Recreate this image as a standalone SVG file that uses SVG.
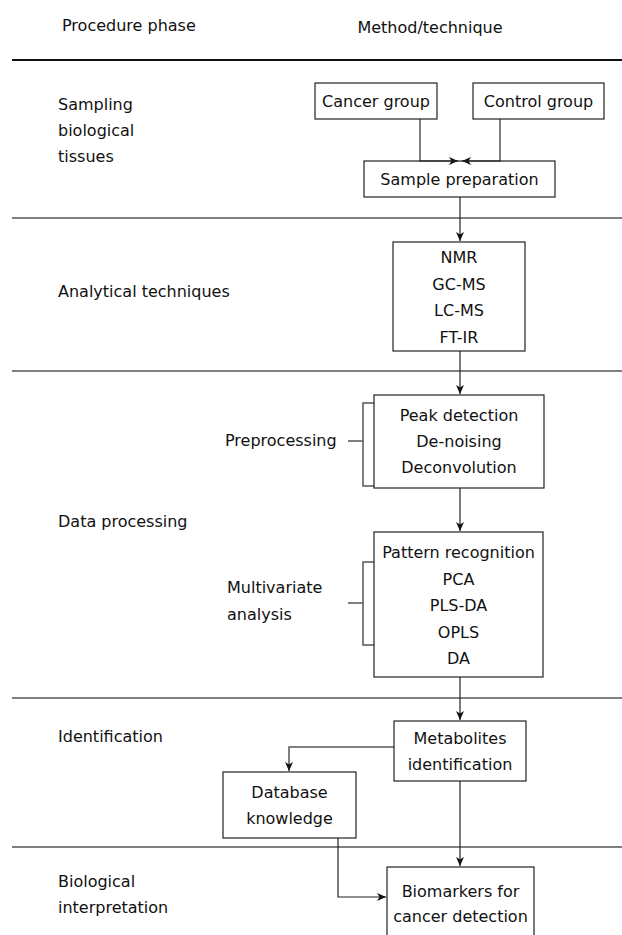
<svg xmlns="http://www.w3.org/2000/svg" width="622" height="935" viewBox="0 0 622 935">
<style>
text{font-family:"DejaVu Sans","Verdana",sans-serif;font-size:16px;fill:#111}
.c{text-anchor:middle}
.box{fill:#fff;stroke:#222;stroke-width:1.2}
.sep{stroke:#555;stroke-width:1.5;fill:none}
.con{stroke:#222;stroke-width:1.2;fill:none}
.con2{stroke:#555;stroke-width:1.5;fill:none}
</style>
<defs>
<marker id="ah" markerUnits="userSpaceOnUse" markerWidth="10" markerHeight="10" refX="9" refY="4" orient="auto">
<path d="M0,0 L9,4 L0,8 L2.5,4 z" fill="#111"/>
</marker>
</defs>
<rect width="622" height="935" fill="#fff"/>
<g id="header">
<text x="62" y="31">Procedure phase</text>
<text x="430" y="33" class="c">Method/technique</text>
<line x1="12" y1="60" x2="622" y2="60" stroke="#111" stroke-width="2.2"/>
</g>
<g id="separators">
<line class="sep" x1="12" y1="218" x2="622" y2="218"/>
<line class="sep" x1="12" y1="371" x2="622" y2="371"/>
<line class="sep" x1="12" y1="698" x2="622" y2="698"/>
<line class="sep" x1="12" y1="847" x2="622" y2="847"/>
</g>
<g id="phases">
<text x="58" y="110">Sampling</text>
<text x="58" y="136">biological</text>
<text x="58" y="162">tissues</text>
<text x="58" y="297">Analytical techniques</text>
<text x="58" y="527">Data processing</text>
<text x="58" y="742">Identification</text>
<text x="58" y="887">Biological</text>
<text x="58" y="913">interpretation</text>
</g>
<g id="connectors">
<path class="con2" d="M420,119 V161 H458" marker-end="url(#ah)"/>
<path class="con2" d="M500,119 V161 H462" marker-end="url(#ah)"/>
<path class="con" d="M460,197 V241" marker-end="url(#ah)"/>
<path class="con" d="M460,351 V394" marker-end="url(#ah)"/>
<path class="con" d="M460,488 V531" marker-end="url(#ah)"/>
<path class="con" d="M460,677 V720" marker-end="url(#ah)"/>
<path class="con2" d="M394,747 H289 V771" marker-end="url(#ah)"/>
<path class="con" d="M460,781 V866" marker-end="url(#ah)"/>
<path class="con" d="M338,838 V897 H386" marker-end="url(#ah)"/>
<path class="con2" d="M374,403 H363 V486 H374 M348,441 H363"/>
<path class="con2" d="M374,562 H363 V645 H374 M348,603 H363"/>
</g>
<g id="cancer">
<rect class="box" x="315" y="83" width="122" height="36"/>
<text x="376" y="107" class="c">Cancer group</text>
</g>
<g id="control">
<rect class="box" x="473" y="83" width="131" height="36"/>
<text x="538.5" y="107" class="c">Control group</text>
</g>
<g id="sample">
<rect class="box" x="364" y="161" width="191" height="36" fill="none" style="fill:none"/>
<text x="459.5" y="185" class="c">Sample preparation</text>
</g>
<g id="analytical">
<rect class="box" x="393" y="242" width="132" height="109"/>
<text x="459" y="263" class="c">NMR</text>
<text x="459" y="289.5" class="c">GC-MS</text>
<text x="459" y="316" class="c">LC-MS</text>
<text x="459" y="342.5" class="c">FT-IR</text>
</g>
<g id="preprocessing">
<rect class="box" x="374" y="395" width="170" height="93"/>
<text x="459" y="421" class="c">Peak detection</text>
<text x="459" y="447" class="c">De-noising</text>
<text x="459" y="473" class="c">Deconvolution</text>
<text x="225" y="446">Preprocessing</text>
</g>
<g id="multivariate">
<rect class="box" x="374" y="532" width="169" height="145"/>
<text x="458.5" y="558" class="c">Pattern recognition</text>
<text x="458.5" y="584.5" class="c">PCA</text>
<text x="458.5" y="611" class="c">PLS-DA</text>
<text x="458.5" y="637.5" class="c">OPLS</text>
<text x="458.5" y="664" class="c">DA</text>
<text x="227" y="593">Multivariate</text>
<text x="227" y="620">analysis</text>
</g>
<g id="metabolites">
<rect class="box" x="394" y="721" width="132" height="60"/>
<text x="460" y="744" class="c">Metabolites</text>
<text x="460" y="770" class="c">identification</text>
</g>
<g id="database">
<rect class="box" x="223" y="772" width="133" height="66"/>
<text x="289.5" y="798" class="c">Database</text>
<text x="289.5" y="824" class="c">knowledge</text>
</g>
<g id="biomarkers">
<rect class="box" x="387" y="867" width="147" height="80"/>
<text x="460.5" y="897" class="c">Biomarkers for</text>
<text x="460.5" y="922" class="c">cancer detection</text>
</g>
</svg>
